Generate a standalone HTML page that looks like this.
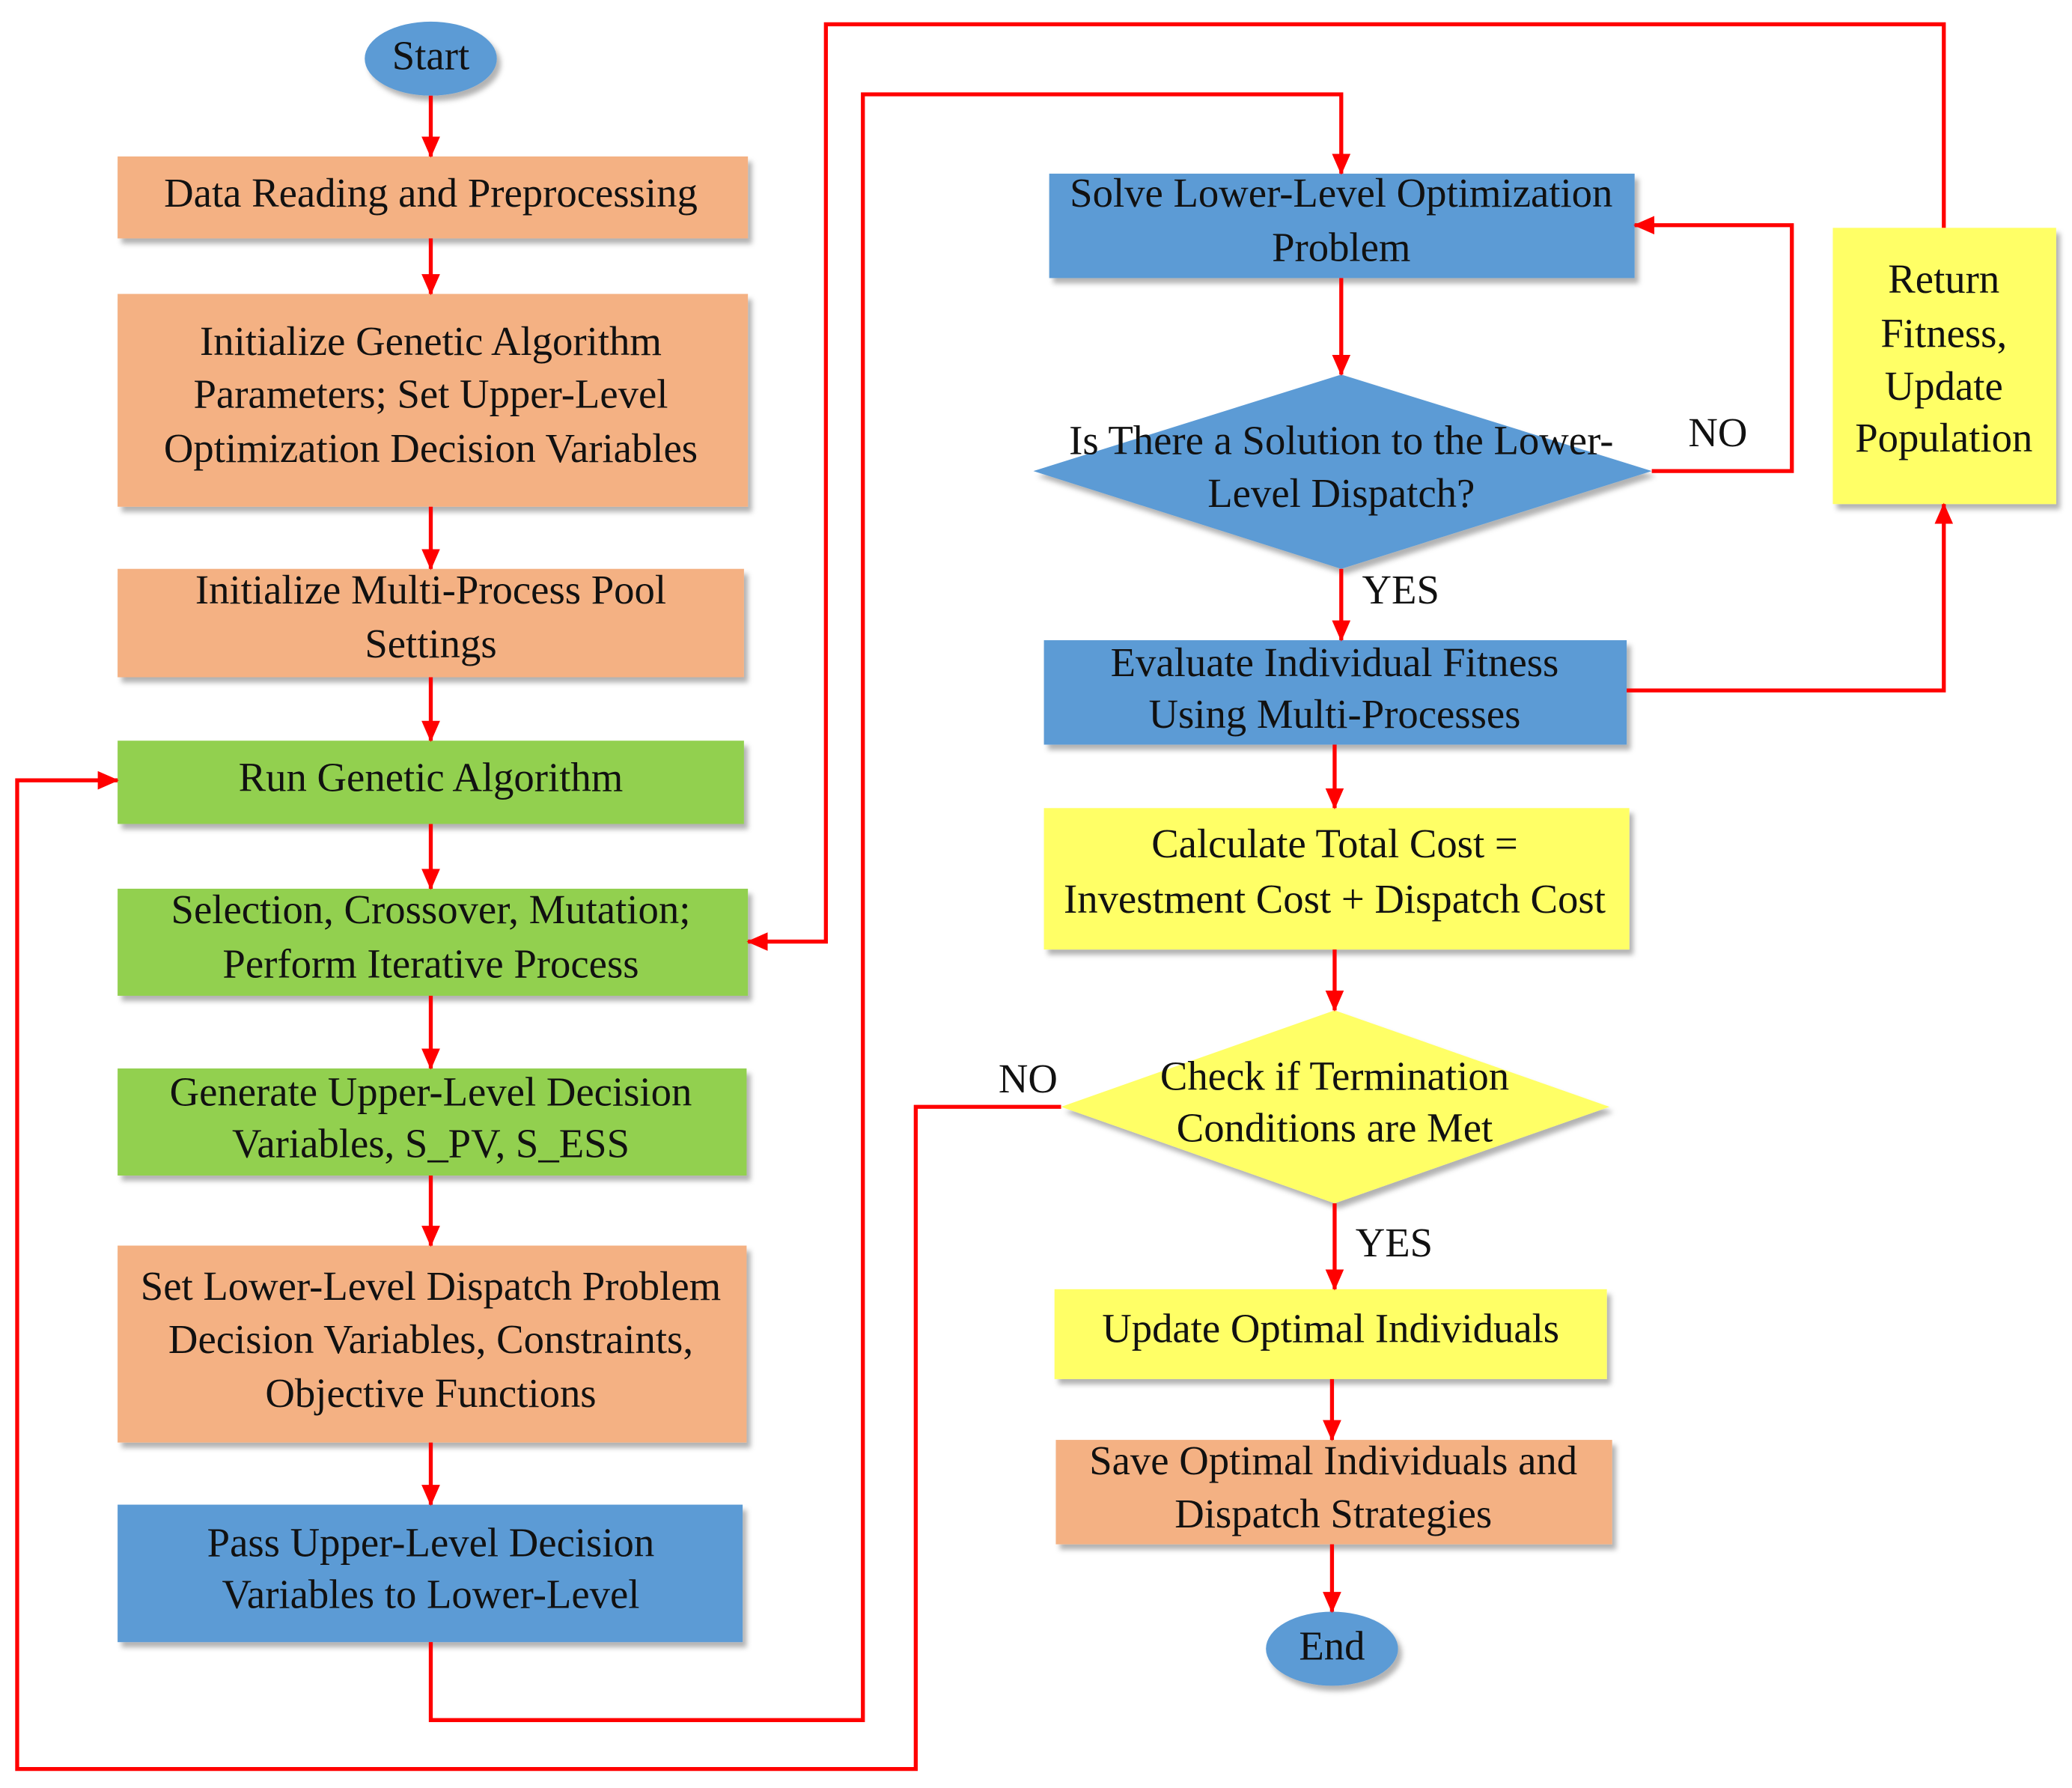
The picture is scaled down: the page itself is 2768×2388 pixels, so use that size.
<!DOCTYPE html>
<html><head><meta charset="utf-8"><style>
html,body{margin:0;padding:0;background:#fff;}
svg{display:block;}
text{font-family:"Liberation Serif",serif;font-size:31px;fill:#111;text-anchor:middle;dominant-baseline:middle;}
</style></head><body>
<svg width="2768" height="2388" viewBox="0 0 1568 1352" xmlns="http://www.w3.org/2000/svg">
<defs>
<marker id="a" markerWidth="16" markerHeight="14" refX="15" refY="7" orient="auto" markerUnits="userSpaceOnUse" viewBox="0 0 16 14"><path d="M0,0 L16,7 L0,14 z" fill="#f00"/></marker>
<filter id="s" x="-10%" y="-10%" width="130%" height="140%"><feDropShadow dx="3" dy="4" stdDeviation="2" flood-color="#000" flood-opacity="0.3"/></filter>
</defs>
<rect width="1568" height="1352" fill="#fff"/>
<g filter="url(#s)">
<ellipse cx="326" cy="44" rx="50" ry="28" fill="#5B9BD5"/>
<rect x="89" y="118" width="477" height="62" fill="#F4B183"/>
<rect x="89" y="222" width="477" height="161" fill="#F4B183"/>
<rect x="89" y="430" width="474" height="82" fill="#F4B183"/>
<rect x="89" y="560" width="474" height="63" fill="#92D050"/>
<rect x="89" y="672" width="477" height="81" fill="#92D050"/>
<rect x="89" y="808" width="476" height="81" fill="#92D050"/>
<rect x="89" y="942" width="476" height="149" fill="#F4B183"/>
<rect x="89" y="1138" width="473" height="104" fill="#5B9BD5"/>
<rect x="794" y="131" width="443" height="79" fill="#5B9BD5"/>
<polygon points="782,356 1015,283 1250,356 1015,430" fill="#5B9BD5"/>
<rect x="790" y="484" width="441" height="79" fill="#5B9BD5"/>
<rect x="790" y="611" width="443" height="107" fill="#FFFF66"/>
<polygon points="803,837 1010,764 1218,837 1010,910" fill="#FFFF66"/>
<rect x="798" y="975" width="418" height="68" fill="#FFFF66"/>
<rect x="799" y="1089" width="421" height="79" fill="#F4B183"/>
<ellipse cx="1008" cy="1247" rx="50" ry="28" fill="#5B9BD5"/>
<rect x="1387" y="172" width="169" height="209" fill="#FFFF66"/>
</g>
<g stroke="#f00" stroke-width="3" fill="none" marker-end="url(#a)">
<path d="M326,72 V118"/><path d="M326,180 V222"/><path d="M326,383 V430"/><path d="M326,512 V560"/>
<path d="M326,623 V672"/><path d="M326,753 V808"/><path d="M326,889 V942"/><path d="M326,1091 V1138"/>
<path d="M326,1242 V1301 H653 V71 H1015 V131"/>
<path d="M1231,522 H1471 V381"/>
<path d="M1471,172 V18 H625 V712 H566"/>
<path d="M1250,356 H1356 V170 H1237"/>
<path d="M1015,210 V283"/><path d="M1015,430 V484"/>
<path d="M1010,563 V611"/><path d="M1010,718 V764"/><path d="M1010,910 V975"/>
<path d="M1008,1043 V1089"/><path d="M1008,1168 V1219"/>
<path d="M803,837 H693 V1338 H13 V590 H89"/>
</g>
<text x="326" y="45">Start</text>
<text x="326" y="149">Data Reading and Preprocessing</text>
<text x="326" y="261">Initialize Genetic Algorithm</text>
<text x="326" y="301">Parameters; Set Upper-Level</text>
<text x="326" y="342">Optimization Decision Variables</text>
<text x="326" y="449">Initialize Multi-Process Pool</text>
<text x="326" y="490">Settings</text>
<text x="326" y="591">Run Genetic Algorithm</text>
<text x="326" y="691">Selection, Crossover, Mutation;</text>
<text x="326" y="732">Perform Iterative Process</text>
<text x="326" y="829">Generate Upper-Level Decision</text>
<text x="326" y="868">Variables, S_PV, S_ESS</text>
<text x="326" y="976">Set Lower-Level Dispatch Problem</text>
<text x="326" y="1016">Decision Variables, Constraints,</text>
<text x="326" y="1057">Objective Functions</text>
<text x="326" y="1170">Pass Upper-Level Decision</text>
<text x="326" y="1209">Variables to Lower-Level</text>
<text x="1015" y="149">Solve Lower-Level Optimization</text>
<text x="1015" y="190">Problem</text>
<text x="1015" y="336">Is There a Solution to the Lower-</text>
<text x="1015" y="376">Level Dispatch?</text>
<text x="1300" y="330">NO</text>
<text x="1060" y="449">YES</text>
<text x="1010" y="504">Evaluate Individual Fitness</text>
<text x="1010" y="543">Using Multi-Processes</text>
<text x="1010" y="641">Calculate Total Cost =</text>
<text x="1010" y="683">Investment Cost + Dispatch Cost</text>
<text x="1010" y="817">Check if Termination</text>
<text x="1010" y="856">Conditions are Met</text>
<text x="778" y="819">NO</text>
<text x="1055" y="943">YES</text>
<text x="1007" y="1008">Update Optimal Individuals</text>
<text x="1009" y="1108">Save Optimal Individuals and</text>
<text x="1009" y="1148">Dispatch Strategies</text>
<text x="1008" y="1248">End</text>
<text x="1471" y="214">Return</text>
<text x="1471" y="255">Fitness,</text>
<text x="1471" y="295">Update</text>
<text x="1471" y="334">Population</text>
</svg>
</body></html>
